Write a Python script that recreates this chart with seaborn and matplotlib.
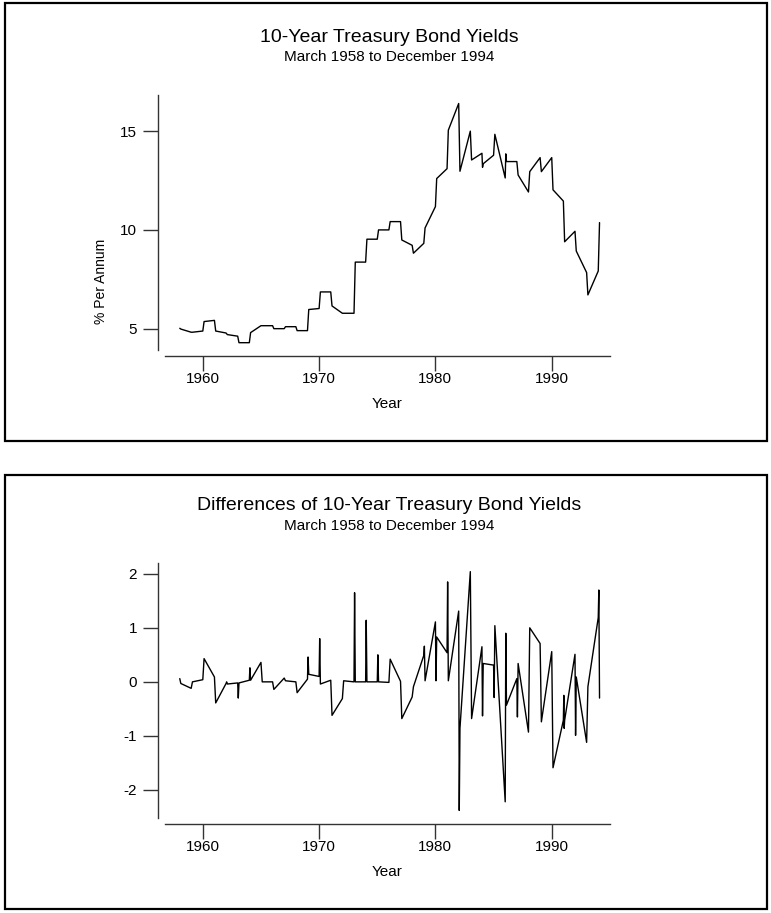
import numpy as np
import pandas as pd
import matplotlib
matplotlib.use("Agg")
from matplotlib import pyplot as plt
from matplotlib.patches import Rectangle
import seaborn as sns

### DATA ###

YEARS = list(range(1958, 1995))

# yield readings inside each year, in time order (first = start of year, last = December)
YIELDS = [
    [5.02, 4.98], [4.82, 4.82], [4.88, 5.36], [5.42, 4.88], [4.78, 4.70],
    [4.62, 4.29], [4.29, 4.80], [5.15, 5.15], [5.15, 5.00], [5.00, 5.10],
    [5.10, 4.90], [4.90, 5.97], [6.02, 6.86], [6.86, 6.15], [5.78, 5.78],
    [5.78, 8.37], [8.37, 9.53], [9.53, 10.00], [10.00, 10.42], [10.42, 9.49],
    [9.22, 8.82], [9.32, 10.10], [11.18, 12.60], [13.10, 15.05], [16.40, 12.97],
    [15.00, 13.54], [13.88, 13.17, 13.35], [13.78, 14.84], [12.63, 13.85, 13.46],
    [13.46, 12.78], [11.92, 12.95], [13.66, 12.95], [13.66, 12.03], [11.46, 9.40],
    [9.93, 8.93], [7.84, 6.71], [7.92, 10.37],
]

# differences of the yields, same layout
DIFFS = [
    [0.06, -0.03], [-0.12, 0.00], [0.04, 0.43], [0.09, -0.39], [-0.03, 0.00, -0.04],
    [-0.02, -0.30, -0.02], [0.03, 0.26, 0.03], [0.36, 0.00], [0.00, -0.14], [0.07, 0.02],
    [0.00, -0.20], [0.05, 0.46, 0.14], [0.10, 0.80, -0.04], [0.03, -0.62], [-0.31, 0.02],
    [0.00, 1.65, 0.00], [0.00, 1.14, 0.00], [0.00, 0.50, 0.00], [-0.01, 0.42], [0.01, -0.68],
    [-0.28, -0.09], [0.49, 0.66, 0.02], [1.11, 0.02, 0.83], [0.54, 1.85, 0.02],
    [1.31, -2.38, -0.86], [2.04, -0.68], [0.65, -0.63, 0.34], [0.31, -0.29, 1.04],
    [-2.22, 0.90, -0.43], [0.06, -0.65, 0.34], [-0.93, 1.00], [0.71, -0.74], [0.56, -1.59],
    [-0.71, -0.25, -0.86, -0.71], [0.51, -0.99, 0.09], [-1.12, -0.09], [1.19, 1.70, -0.30],
]

TITLE_TOP = "10-Year Treasury Bond Yields"
TITLE_BOT = "Differences of 10-Year Treasury Bond Yields"
SUBTITLE = "March 1958 to December 1994"
XTICKS = [1960, 1970, 1980, 1990]


def to_frame(years, readings, first_month=3):
    # time stamp is year + month/100, like the original series
    rows = []
    for yr, vals in zip(years, readings):
        start = first_month if yr == years[0] else 1
        months = np.linspace(start, 12, len(vals)).round()
        for m, v in zip(months, vals):
            rows.append((yr + m / 100, v))
    return pd.DataFrame(rows, columns=["time", "value"])


top_df = to_frame(YEARS, YIELDS)
bot_df = to_frame(YEARS, DIFFS)

### PLOT ###

sns.set_style("white")
plt.rcParams["font.family"] = ["Liberation Sans", "DejaVu Sans"]
plt.rcParams["axes.unicode_minus"] = False
plt.rcParams["text.color"] = "black"
plt.rcParams["axes.labelcolor"] = "black"
plt.rcParams["xtick.color"] = "black"
plt.rcParams["ytick.color"] = "black"

W, H = 771, 913
fig = plt.figure(figsize=(W / 100, H / 100), dpi=100)

# panel frames
for y0, y1 in [(3, 441), (475, 909)]:
    fig.patches.append(Rectangle((5 / W, 1 - y1 / H), 762 / W, (y1 - y0) / H,
                                 transform=fig.transFigure, fill=False,
                                 edgecolor="black", linewidth=1.6))


def make_axes(top_px, bot_px):
    return fig.add_axes([165 / W, 1 - bot_px / H, 445 / W, (bot_px - top_px) / H])


ax1 = make_axes(95, 350)
ax2 = make_axes(563, 818)

sns.lineplot(data=top_df, x="time", y="value", sort=False, estimator=None,
             color="black", linewidth=1.0, ax=ax1)
sns.lineplot(data=bot_df, x="time", y="value", sort=False, estimator=None,
             color="black", linewidth=1.0, ax=ax2)

ax1.set_ylim(3.92, 16.83)
ax1.set_yticks([5, 10, 15])
ax2.set_ylim(-2.52, 2.2)
ax2.set_yticks([-2, -1, 0, 1, 2])

for ax in (ax1, ax2):
    ax.set_xlim(1956.76, 1995.02)
    ax.set_xticks(XTICKS)
    sns.despine(ax=ax)
    ax.spines["left"].set_position(("outward", 5))
    ax.spines["bottom"].set_position(("outward", 4))
    for s in ("left", "bottom"):
        ax.spines[s].set_linewidth(1.0)
        ax.spines[s].set_color("#333333")
    ax.tick_params(axis="both", length=11, width=1.0, color="#333333",
                   labelsize=11, direction="out", left=True, bottom=True)
    ax.tick_params(axis="y", pad=4)
    ax.tick_params(axis="x", pad=1)
    ax.set_xlabel("Year", fontsize=11, labelpad=8)
    ax.set_ylabel("")
    ax.grid(False)

ax1.set_ylabel("% Per Annum", fontsize=10)
ax1.yaxis.set_label_coords(-0.128, 0.27)

fig.text(389 / W, 1 - 37 / H, TITLE_TOP, ha="center", va="center", fontsize=14)
fig.text(389 / W, 1 - 57 / H, SUBTITLE, ha="center", va="center", fontsize=11)
fig.text(389 / W, 1 - 505 / H, TITLE_BOT, ha="center", va="center", fontsize=14)
fig.text(389 / W, 1 - 526 / H, SUBTITLE, ha="center", va="center", fontsize=11)

fig.savefig("out.png", dpi=100)
